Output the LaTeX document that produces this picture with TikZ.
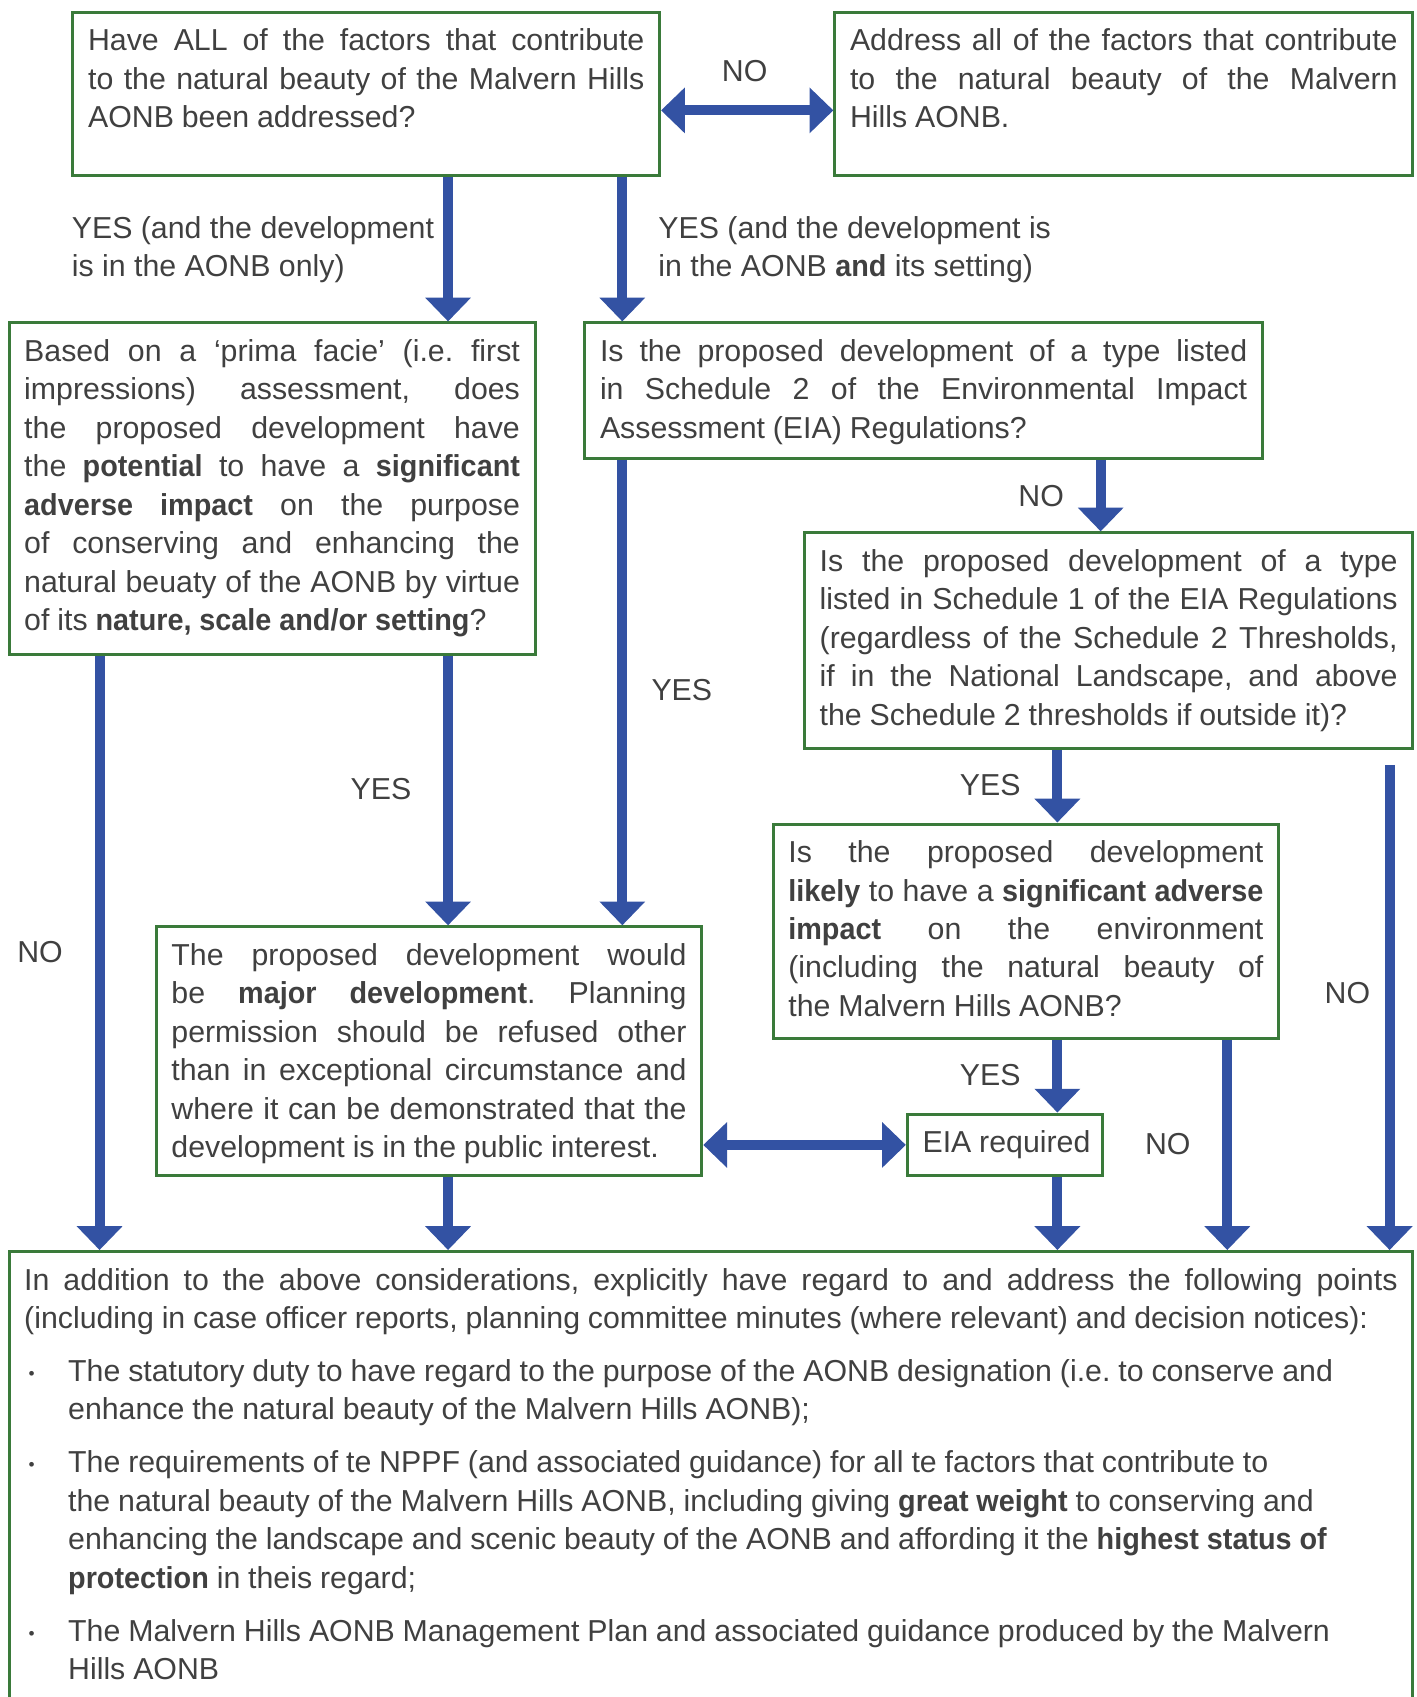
\documentclass[tikz,border=0pt]{standalone}
\usepackage{fontspec}
\setmainfont{Liberation Sans}[BoldFeatures={FakeStretch=0.95}]
\usepackage{xcolor}
\usetikzlibrary{arrows.meta}

\definecolor{boxgreen}{RGB}{58,122,58}
\definecolor{flowblue}{RGB}{51,82,163}
\definecolor{txtgrey}{RGB}{64,64,64}

\newcommand{\flowfont}{\fontsize{14}{17.75}\selectfont}
\newcommand{\boxtext}[3]{\parbox[c][#1][t]{#2}{\frenchspacing\hyphenpenalty=10000\spaceskip=0.26em plus 0.6em minus 0.1em\parskip=6.75pt\rule{0pt}{17.8pt}#3}}
\newcommand{\bulletline}[1]{\par\hangindent=20.3pt\hangafter=1\noindent\makebox[20.3pt][l]{\hspace{2pt}\raisebox{1pt}{\fontsize{8}{8}\selectfont•}}#1}

\begin{document}
\begin{tikzpicture}[x=0.5pt, y=-0.5pt,
    flowbox/.style={draw=boxgreen, line width=1.4pt, anchor=north west, inner xsep=7pt, inner ysep=0pt, text=txtgrey, font=\flowfont},
    answer/.style={text=txtgrey, font=\flowfont, inner sep=0pt},
    flowarrow/.style={draw=flowblue, line width=4.6pt, -{Triangle[length=11pt, width=20.5pt]}},
    twoway/.style={draw=flowblue, line width=4.6pt, {Triangle[length=11pt, width=20.5pt]}-{Triangle[length=11pt, width=20.5pt]}}]
    \useasboundingbox (0,0) rectangle (1309,1568);

    \node[flowbox] (all_factors) at (66,10) {\boxtext{75.5pt}{257pt}{Have ALL of the factors that contribute\linebreak to the natural beauty of the Malvern Hills\linebreak AONB been addressed?}};
    \node[flowbox] (address) at (770,10) {\boxtext{75.5pt}{253pt}{Address all of the factors that contribute\linebreak to the natural beauty of the Malvern\linebreak Hills AONB.}};

    \node[flowbox] (prima) at (7,297) {\boxtext{153pt}{229pt}{Based on a ‘prima facie’ (i.e. first\linebreak impressions) assessment, does\linebreak the proposed development have\linebreak the \textbf{potential} to have a \textbf{significant}\linebreak \textbf{adverse impact} on the purpose\linebreak of conserving and enhancing the\linebreak natural beuaty of the AONB by virtue\linebreak of its \textbf{nature, scale and/or setting}?}};
    \node[flowbox] (sched_two) at (539,297) {\boxtext{62.5pt}{299pt}{Is the proposed development of a type listed\linebreak in Schedule 2 of the Environmental Impact\linebreak Assessment (EIA) Regulations?}};
    \node[flowbox] (sched_one) at (742,491) {\boxtext{99.5pt}{267pt}{Is the proposed development of a type\linebreak listed in Schedule 1 of the EIA Regulations\linebreak (regardless of the Schedule 2 Thresholds,\linebreak if in the National Landscape, and above\linebreak the Schedule 2 thresholds if outside it)?}};
    \node[flowbox] (likely) at (713,760) {\boxtext{99pt}{219.5pt}{Is the proposed development\linebreak \textbf{likely} to have a \textbf{significant adverse}\linebreak \textbf{impact} on the environment\linebreak (including the natural beauty of\linebreak the Malvern Hills AONB?}};
    \node[flowbox] (major) at (143,855) {\boxtext{115pt}{238pt}{The proposed development would\linebreak be \textbf{major development}. Planning\linebreak permission should be refused other\linebreak than in exceptional circumstance and\linebreak where it can be demonstrated that the\linebreak development is in the public interest.}};
    \node[flowbox] (eia) at (837,1028) {\boxtext{28.5pt}{76pt}{\makebox[76pt][l]{EIA required}}};

    \node[flowbox] (points) at (7,1155) {\boxtext{215pt}{634.5pt}{In addition to the above considerations, explicitly have regard to and address the following points\linebreak (including in case officer reports, planning committee minutes (where relevant) and decision notices):
        \bulletline{The statutory duty to have regard to the purpose of the AONB designation (i.e. to conserve and\\enhance the natural beauty of the Malvern Hills AONB);}
        \bulletline{The requirements of te NPPF (and associated guidance) for all te factors that contribute to\\the natural beauty of the Malvern Hills AONB, including giving \textbf{great weight} to conserving and\\enhancing the landscape and scenic beauty of the AONB and affording it the \textbf{highest status of}\\\textbf{protection} in theis regard;}
        \bulletline{The Malvern Hills AONB Management Plan and associated guidance produced by the Malvern\\Hills AONB}}};

    \node[answer] (no_top) at (688,66) {NO};
    \node[answer, anchor=west, align=left] (yes_only) at (66,230.5) {YES (and the development\\is in the AONB only)};
    \node[answer, anchor=west, align=left] (yes_setting) at (608,230.5) {YES (and the development is\\in the AONB \textbf{and} its setting)};
    \node[answer] (no_sched_two) at (962,458) {NO};
    \node[answer] (yes_sched_two) at (630,638) {YES};
    \node[answer] (yes_prima) at (352,729) {YES};
    \node[answer] (no_prima) at (37,880) {NO};
    \node[answer] (yes_sched_one) at (915,725) {YES};
    \node[answer] (no_sched_one) at (1245,918) {NO};
    \node[answer] (yes_likely) at (915,993) {YES};
    \node[answer] (no_likely) at (1079,1057) {NO};

    \coordinate (col_a) at (414,0);
    \coordinate (col_b) at (575,0);
    \coordinate (col_c) at (1017,0);
    \coordinate (col_d) at (92,0);
    \coordinate (col_e) at (977,0);
    \coordinate (col_f) at (1284,0);
    \coordinate (col_g) at (1134,0);
    \coordinate (no_row) at (0,102);

    \draw[twoway] (all_factors.east |- no_row) -- (address.west |- no_row);
    \draw[flowarrow] (all_factors.south -| col_a) -- (prima.north -| col_a);
    \draw[flowarrow] (all_factors.south -| col_b) -- (sched_two.north -| col_b);
    \draw[flowarrow] (sched_two.south -| col_c) -- (sched_one.north -| col_c);
    \draw[flowarrow] (prima.south -| col_d) -- (points.north -| col_d);
    \draw[flowarrow] (prima.south -| col_a) -- (major.north -| col_a);
    \draw[flowarrow] (sched_two.south -| col_b) -- (major.north -| col_b);
    \draw[flowarrow] (sched_one.south -| col_e) -- (likely.north -| col_e);
    \draw[flowarrow] ([yshift=-7pt]sched_one.south -| col_f) -- (points.north -| col_f);
    \draw[flowarrow] (likely.south -| col_e) -- (eia.north -| col_e);
    \draw[flowarrow] (likely.south -| col_g) -- (points.north -| col_g);
    \draw[twoway] (major.east |- eia.west) -- (eia.west);
    \draw[flowarrow] (major.south -| col_a) -- (points.north -| col_a);
    \draw[flowarrow] (eia.south -| col_e) -- (points.north -| col_e);
\end{tikzpicture}
\end{document}
